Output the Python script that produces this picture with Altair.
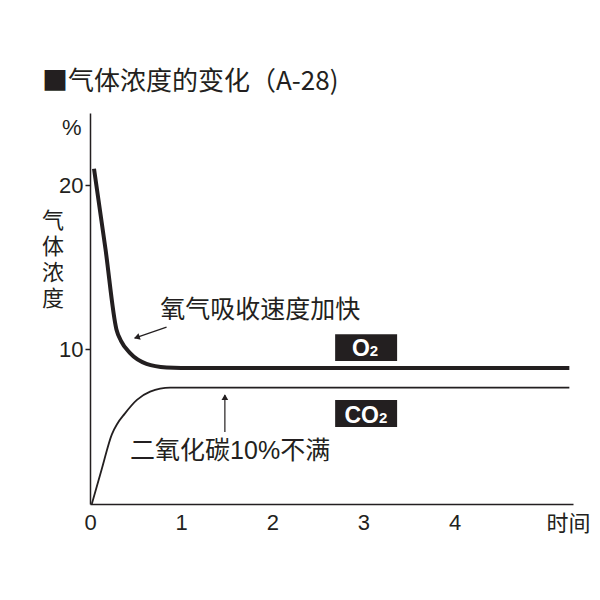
import altair as alt
import pandas as pd

INK = "#231f20"
FONT = "Liberation Sans, Noto Sans CJK SC"
CJK = "Noto Sans CJK SC"

# curves
o2_x = [0.044, 0.17, 0.29, 0.34, 0.44, 0.62, 0.84, 1.0, 5.26]
o2_y = [21.0, 16.1, 11.2, 10.5, 9.75, 9.1, 8.88, 8.85, 8.85]
co2_x = [0.02, 0.13, 0.24, 0.30, 0.38, 0.515, 0.66, 0.88, 1.0, 5.26]
co2_y = [0.55, 2.7, 4.8, 5.45, 6.05, 6.9, 7.4, 7.65, 7.65, 7.65]

# tick values
x_ticks = [0, 1, 2, 3, 4]
y_ticks = [10, 20]

# annotation arrows (start -> tip)
arrow_x = [0.84, 1.48]
arrow_y = [11.34, 4.94]
arrow_x2 = [0.49, 1.48]
arrow_y2 = [10.67, 7.2]
head_x = [0.524, 1.48]
head_y = [10.73, 7.01]
head_angle = [251, 0]

# annotation texts
note_text = ["氧气吸收速度加快", "二氧化碳10%不满"]
note_x = [0.77, 0.44]
note_y = [12.38, 3.78]

# label boxes
box_x = [2.69, 2.69]
box_x2 = [3.37, 3.37]
box_y = [10.91, 6.89]
box_y2 = [9.27, 5.24]
box_main = ["O", "CO"]
box_sub = ["2", "2"]
box_tx = [3.07, 3.17]
box_ty = [9.55, 5.47]

o2_df = pd.DataFrame({"t": o2_x, "v": o2_y})
co2_df = pd.DataFrame({"t": co2_x, "v": co2_y})
arrow_df = pd.DataFrame({"x": arrow_x, "y": arrow_y, "x2": arrow_x2, "y2": arrow_y2})
head_df = pd.DataFrame({"x": head_x, "y": head_y, "a": head_angle})
note_df = pd.DataFrame({"x": note_x, "y": note_y, "text": note_text})
box_df = pd.DataFrame({"x": box_x, "x2": box_x2, "y": box_y, "y2": box_y2,
                       "tx": box_tx, "ty": box_ty, "main": box_main, "sub": box_sub})

xs = alt.Scale(domain=[0, 5.3], nice=False, zero=False)
ys = alt.Scale(domain=[0.55, 24.4], nice=False, zero=False)

x_axis = alt.Axis(values=x_ticks, format="d", ticks=False, labelPadding=8, labelFontSize=22,
                  labelFont=FONT, labelColor=INK, domainColor=INK, domainWidth=1.5,
                  labelFlush=False, grid=False, title=None, labelAngle=0)
y_axis = alt.Axis(values=y_ticks, format="d", tickSize=5, tickColor=INK, tickWidth=1.5,
                  labelPadding=2, labelFontSize=22, labelFont=FONT, labelColor=INK,
                  domainColor=INK, domainWidth=1.5, grid=False, title=None)

o2_line = alt.Chart(o2_df).mark_line(interpolate="monotone", strokeWidth=4, color=INK).encode(
    x=alt.X("t:Q", scale=xs, axis=x_axis),
    y=alt.Y("v:Q", scale=ys, axis=y_axis),
)
co2_line = alt.Chart(co2_df).mark_line(interpolate="monotone", strokeWidth=1.8, color=INK).encode(
    x=alt.X("t:Q", scale=xs), y=alt.Y("v:Q", scale=ys)
)
arrows = alt.Chart(arrow_df).mark_rule(strokeWidth=1.2, color=INK).encode(
    x="x:Q", y="y:Q", x2="x2:Q", y2="y2:Q"
)
heads = alt.Chart(head_df).mark_point(shape="triangle", filled=True, size=45, color=INK, opacity=1).encode(
    x="x:Q", y="y:Q", angle=alt.Angle("a:Q", scale=None)
)
notes = alt.Chart(note_df).mark_text(align="left", baseline="middle", fontSize=25, font=FONT, color=INK).encode(
    x="x:Q", y="y:Q", text="text:N"
)
boxes = alt.Chart(box_df).mark_rect(color=INK).encode(
    x="x:Q", x2="x2:Q", y="y:Q", y2="y2:Q"
)
box_main_t = alt.Chart(box_df).mark_text(align="right", baseline="alphabetic", fontSize=23,
                                         fontWeight="bold", font="Liberation Sans", color="white").encode(
    x="tx:Q", y="ty:Q", text="main:N"
)
box_sub_t = alt.Chart(box_df).mark_text(align="left", baseline="alphabetic", fontSize=15,
                                        fontWeight="bold", font="Liberation Sans", color="white").encode(
    x="tx:Q", y="ty:Q", text="sub:N"
)

x_title = alt.Chart(pd.DataFrame({"x": [5.25], "y": [-0.67], "text": ["时间"]})).mark_text(
    align="center", baseline="middle", fontSize=22, font=FONT, color=INK).encode(
    x="x:Q", y="y:Q", text="text:N")
unit = alt.Chart(pd.DataFrame({"x": [-0.20], "y": [23.5], "text": ["%"]})).mark_text(
    align="center", baseline="middle", fontSize=22, font=FONT, color=INK).encode(
    x="x:Q", y="y:Q", text="text:N")
y_title = alt.Chart(pd.DataFrame({"x": [-0.405], "y": [17.8], "text": ["气\n体\n浓\n度"]})).mark_text(
    align="center", baseline="middle", fontSize=22, lineHeight=26, lineBreak="\n",
    font=FONT, color=INK).encode(
    x="x:Q", y="y:Q", text="text:N")

chart = alt.layer(
    co2_line, o2_line, arrows, heads, notes, boxes, box_main_t, box_sub_t, x_title, unit, y_title
).properties(
    width=483, height=391,
    autosize=alt.AutoSizeParams(type="none"),
    padding={"left": 82, "top": 105, "right": 19, "bottom": 88},
    title=alt.TitleParams("■气体浓度的变化（A-28)", anchor="start", frame="group", dx=-48,
                          fontSize=26, fontWeight="normal", font=CJK, color=INK, offset=18),
).configure(background="white").configure_view(stroke=None)

chart.save("out.html", embed_options={"renderer": "svg", "actions": False})
